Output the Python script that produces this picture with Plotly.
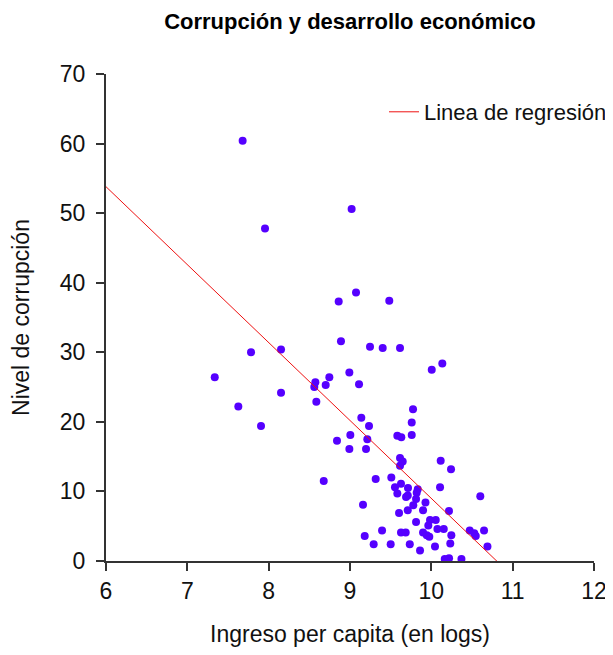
import plotly.graph_objects as go

# Data
ingreso = [7.68, 9.02, 7.955, 9.074, 8.861, 9.483, 7.783, 8.152, 8.889, 9.246,
           9.402, 9.615, 10.135, 10.005, 7.337, 8.992, 8.746, 8.574, 8.561, 8.701,
           9.111, 8.152, 7.627, 8.586, 9.775, 9.139, 9.759, 9.234, 7.906, 9.004,
           9.582, 9.631, 9.759, 9.213, 8.840, 8.992, 9.197, 9.615, 9.648, 9.615,
           10.115, 10.242, 9.316, 9.508, 8.677, 9.627, 9.553, 9.713, 9.833, 9.820,
           10.107, 9.582, 9.689, 9.710, 9.812, 10.602, 9.160, 9.928, 9.778, 9.710,
           9.898, 10.217, 9.603, 9.812, 9.984, 10.054, 9.963, 10.075, 10.153, 10.648,
           10.472, 10.528, 10.546, 9.394, 9.627, 9.685, 9.898, 9.944, 9.975, 10.246,
           9.181, 10.233, 9.291, 9.500, 9.735, 10.045, 10.690, 9.861, 10.165, 10.218,
           10.370]
corrupcion = [60.4, 50.6, 47.8, 38.6, 37.3, 37.4, 30.0, 30.4, 31.6, 30.8,
              30.6, 30.6, 28.4, 27.5, 26.4, 27.1, 26.4, 25.7, 25.0, 25.3,
              25.4, 24.2, 22.2, 22.9, 21.8, 20.6, 19.9, 19.4, 19.4, 18.1,
              18.0, 17.8, 18.1, 17.5, 17.3, 16.1, 16.1, 14.8, 14.3, 13.7,
              14.4, 13.2, 11.8, 12.0, 11.5, 11.1, 10.6, 10.5, 10.3, 9.8,
              10.6, 9.7, 9.2, 9.4, 8.9, 9.3, 8.1, 8.4, 8.0, 7.3,
              7.3, 7.2, 6.9, 5.6, 5.9, 5.9, 5.1, 4.6, 4.6, 4.4,
              4.4, 4.0, 3.6, 4.4, 4.1, 4.1, 4.1, 3.7, 3.5, 3.7,
              3.6, 2.5, 2.4, 2.4, 2.4, 2.1, 2.1, 1.5, 0.3, 0.4,
              0.3]

# Regression line (coefficients)
intercepto = 121.0
pendiente = -11.2
reg_x = [6, 12]
reg_y = [intercepto + pendiente * v for v in reg_x]

x_ticks = [6, 7, 8, 9, 10, 11, 12]
y_ticks = [0, 10, 20, 30, 40, 50, 60, 70]

FONT = "Liberation Sans, Arial, sans-serif"
OFF = 8                          # page body margin of the html page
W, H = 613 - OFF, 655 - 2 * OFF  # keep the page free of scrollbars

fig = go.Figure()
fig.add_trace(go.Scatter(
    x=ingreso, y=corrupcion, mode="markers",
    marker=dict(color="#5500FF", size=8, line=dict(width=0)),
    showlegend=False, cliponaxis=False,
))
fig.add_trace(go.Scatter(
    x=reg_x, y=reg_y, mode="lines",
    line=dict(color="#EE1111", width=1),
    name="Linea de regresión", showlegend=True,
))

fig.update_layout(
    width=W, height=H,
    margin=dict(l=106 - OFF, r=W - (594 - OFF), t=74 - OFF, b=H - (561 - OFF),
                autoexpand=False),
    paper_bgcolor="white", plot_bgcolor="white",
    font=dict(family=FONT, color="#111111", size=23),
    title=dict(text="<b>Corrupción y desarrollo económico</b>",
               xref="container", x=(350 - OFF) / W, xanchor="center",
               yref="container", y=1 - (21 - OFF) / H, yanchor="middle",
               font=dict(family=FONT, size=22, color="#000000")),
    legend=dict(xref="container", x=(384 - OFF) / W, xanchor="left",
                yref="container", y=1 - (112 - OFF) / H, yanchor="middle",
                bgcolor="rgba(0,0,0,0)", borderwidth=0,
                font=dict(family=FONT, size=22, color="#111111")),
    showlegend=True,
)
fig.update_xaxes(
    range=[6, 12], tickvals=x_ticks, ticktext=[str(v) for v in x_ticks],
    showgrid=False, zeroline=False, showline=True, linecolor="#333333", linewidth=2,
    ticks="outside", ticklen=8, tickwidth=2, tickcolor="#333333",
    tickfont=dict(family=FONT, size=23, color="#111111"),
    automargin=False,
    title=dict(text="Ingreso per capita (en logs)", standoff=45,
               font=dict(family=FONT, size=23, color="#111111")),
)
fig.update_yaxes(
    range=[0, 70], tickvals=y_ticks, ticktext=[str(v) for v in y_ticks],
    showgrid=False, zeroline=False, showline=True, linecolor="#333333", linewidth=2,
    ticks="outside", ticklen=8, tickwidth=2, tickcolor="#333333",
    tickfont=dict(family=FONT, size=23, color="#111111"),
    ticklabelstandoff=6,
    automargin=False,
    title=dict(text="Nivel de corrupción", standoff=25,
               font=dict(family=FONT, size=23, color="#111111")),
)

fig.write_html("out.html")
